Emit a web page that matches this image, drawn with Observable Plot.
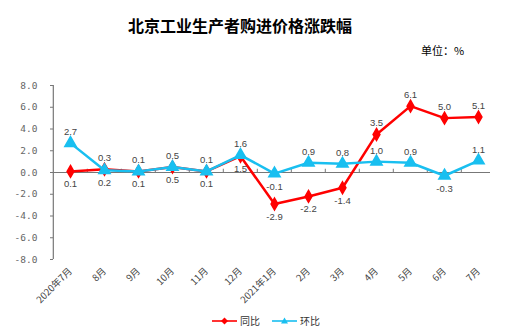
<!DOCTYPE html>
<html>
<head>
<meta charset="utf-8">
<script src="https://cdn.jsdelivr.net/npm/d3@7"></script>
<script src="https://cdn.jsdelivr.net/npm/@observablehq/plot@0.6"></script>
<style>
  body { margin: 0; background: #fff; }
  #wrap { position: relative; width: 513px; height: 336px; overflow: hidden; font-family: "Noto Sans CJK SC", "Liberation Sans", sans-serif; }
  #chart { position: absolute; left: 0; top: 0; }
  #title { position: absolute; left: 0; width: 480px; top: 13px; text-align: center; font-size: 16px; font-weight: bold; color: #000; }
  #unit { position: absolute; left: 421px; top: 42px; font-size: 11px; color: #000; }
  #legend { position: absolute; top: 313px; left: 212px; font-size: 10px; color: #333; display: flex; align-items: center; }
  #legend span { display: inline-flex; align-items: center; margin-right: 12px; }
</style>
</head>
<body>
<div id="wrap">
  <div id="chart"></div>
  <div id="title">北京工业生产者购进价格涨跌幅</div>
  <div id="unit">单位：%</div>
  <div id="legend"></div>
</div>
<script>
const months = ["2020年7月","8月","9月","10月","11月","12月","2021年1月","2月","3月","4月","5月","6月","7月"];
const tongbi = [0.1, 0.3, 0.1, 0.5, 0.1, 1.5, -2.9, -2.2, -1.4, 3.5, 6.1, 5.0, 5.1];
const huanbi = [2.7, 0.2, 0.1, 0.5, 0.1, 1.6, -0.1, 0.9, 0.8, 1.0, 0.9, -0.3, 1.1];
const yTicks = [-8, -6, -4, -2, 0, 2, 4, 6, 8];
const seriesNames = ["同比", "环比"];
const colors = ["#ff0000", "#19bff0"];

const tb = months.map((m, i) => ({m, v: tongbi[i], other: huanbi[i]}));
const hb = months.map((m, i) => ({m, v: huanbi[i], other: tongbi[i]}));

// label placement rules
const tbBelow = d => d.v < 0 || d.v < d.other;
const hbBelow = d => d.v < 0 || (d.v <= d.other && Math.abs(d.v - d.other) < 0.5);

const W = 513, H = 336;
const mL = 50, mR = 16;
const plotW = W - mL - mR;
const step = plotW / months.length;

const labelFont = "Liberation Sans, sans-serif";

const chart = Plot.plot({
  width: W,
  height: H,
  marginTop: 85,
  marginBottom: 77,
  marginLeft: mL,
  marginRight: mR,
  style: {background: "#fff", color: "#555", fontSize: "9px"},
  x: {type: "point", domain: months, padding: 0.5, label: null},
  y: {domain: [-8, 8], label: null},
  marks: [
    Plot.axisY({ticks: yTicks, tickSize: 0, tickPadding: 13, tickFormat: d => d.toFixed(1), fontSize: 9.5, fontFamily: "DejaVu Sans Mono, monospace", fill: "#666"}),
    Plot.tickY(yTicks, {y: d => d, insetRight: plotW - 3, stroke: "#777", strokeWidth: 1}),
    Plot.ruleX([0], {x: () => months[0], dx: -step / 2, y1: -8, y2: 8, stroke: "#777", strokeWidth: 1.2}),
    Plot.axisX({tickSize: 0, tickRotate: -45, tickPadding: 10, fontSize: 9.5, fill: "#444", fontFamily: "Noto Sans CJK SC, sans-serif"}),
    Plot.ruleY([0], {stroke: "#777", strokeWidth: 1.2, insetRight: 7}),
    Plot.ruleX(months.slice(1), {x: d => d, dx: -step / 2, y1: 0, y2: 0.3, stroke: "#777"}),
    Plot.line(tb, {x: "m", y: "v", stroke: colors[0], strokeWidth: 2.5}),
    Plot.dot(tb, {x: "m", y: "v", symbol: "diamond", r: 3.6, fill: colors[0], stroke: colors[0]}),
    Plot.line(hb, {x: "m", y: "v", stroke: colors[1], strokeWidth: 2.5}),
    Plot.dot(hb, {x: "m", y: "v", symbol: "triangle", r: 4.2, fill: colors[1], stroke: colors[1]}),
    Plot.text(tb.filter(d => !tbBelow(d)), {x: "m", y: "v", text: d => d.v.toFixed(1), dy: -11, fill: "#444", fontSize: 9.5, fontFamily: labelFont}),
    Plot.text(tb.filter(tbBelow), {x: "m", y: "v", text: d => d.v.toFixed(1), dy: 13, fill: "#444", fontSize: 9.5, fontFamily: labelFont}),
    Plot.text(hb.filter(d => !hbBelow(d)), {x: "m", y: "v", text: d => d.v.toFixed(1), dy: -11, fill: "#444", fontSize: 9.5, fontFamily: labelFont}),
    Plot.text(hb.filter(hbBelow), {x: "m", y: "v", text: d => d.v.toFixed(1), dy: 13, fill: "#444", fontSize: 9.5, fontFamily: labelFont})
  ]
});
document.getElementById("chart").appendChild(chart);

// legend
const legend = document.getElementById("legend");
const shapes = ["M0,-3.5L3.5,0L0,3.5L-3.5,0Z", "M0,-3.5L3.5,2.5L-3.5,2.5Z"];
seriesNames.forEach((name, i) => {
  const s = document.createElement("span");
  s.innerHTML = `<svg width="25" height="10" style="margin-right:3px"><line x1="0" x2="25" y1="5" y2="5" stroke="${colors[i]}" stroke-width="1.6"/><path transform="translate(12.5,5)" d="${shapes[i]}" fill="${colors[i]}"/></svg>${name}`;
  legend.appendChild(s);
});
</script>
</body>
</html>
